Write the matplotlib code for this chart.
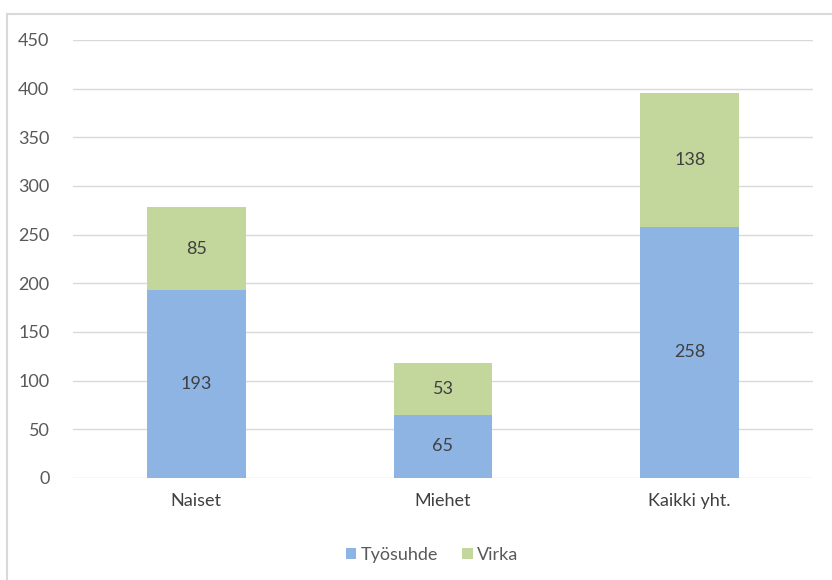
import matplotlib.pyplot as plt
from matplotlib.lines import Line2D
import numpy as np

plt.rcParams['font.family'] = ['Lato', 'DejaVu Sans']

# data
categories = ['Naiset', 'Miehet', 'Kaikki yht.']
tyosuhde = [193, 65, 258]
virka = [85, 53, 138]
series_names = ['Työsuhde', 'Virka']

blue = '#8EB4E3'
green = '#C3D69B'
grey_txt = '#595959'

fig = plt.figure(figsize=(8.32, 5.8), dpi=100)
W, H = 832, 580
ax = fig.add_axes([73 / W, (H - 478) / H, (813 - 73) / W, (478 - 40) / H])

x = np.arange(len(categories))
b1 = ax.bar(x, tyosuhde, width=0.4, color=blue, label=series_names[0], zorder=3)
b2 = ax.bar(x, virka, width=0.4, bottom=tyosuhde, color=green, label=series_names[1], zorder=3)

for bars in (b1, b2):
    for r in bars:
        h = r.get_height()
        ax.text(r.get_x() + r.get_width() / 2, r.get_y() + h / 2, f'{h:.0f}',
                ha='center', va='center', fontsize=13, color='#404040', zorder=4)

ax.set_xlim(-0.5, 2.5)
ax.set_ylim(0, 450)
ax.set_yticks(range(0, 451, 50))
ax.set_xticks(x)
ax.set_xticklabels(categories)
ax.yaxis.grid(True, color='#D9D9D9', linewidth=1)
ax.set_axisbelow(True)
for s in ax.spines.values():
    s.set_visible(False)
ax.tick_params(length=0, labelsize=13, colors=grey_txt)
ax.tick_params(axis='y', pad=17)
ax.tick_params(axis='x', pad=11)
for t in ax.get_xticklabels():
    t.set_color('#404040')

# legend
ax.legend(loc='center', bbox_to_anchor=(432 / W, (H - 555) / H), bbox_transform=fig.transFigure,
          ncol=2, frameon=False, fontsize=13, handlelength=0.6, handleheight=0.6,
          handletextpad=0.25, columnspacing=1.3, labelcolor=grey_txt)

# chart frame
fig.add_artist(Line2D([7 / W, 7 / W], [0, 1 - 14 / H], color='#D9D9D9', lw=1.5, transform=fig.transFigure))
fig.add_artist(Line2D([7 / W, 1], [1 - 14 / H, 1 - 14 / H], color='#D9D9D9', lw=1.5, transform=fig.transFigure))

fig.savefig('out.png', dpi=100)
